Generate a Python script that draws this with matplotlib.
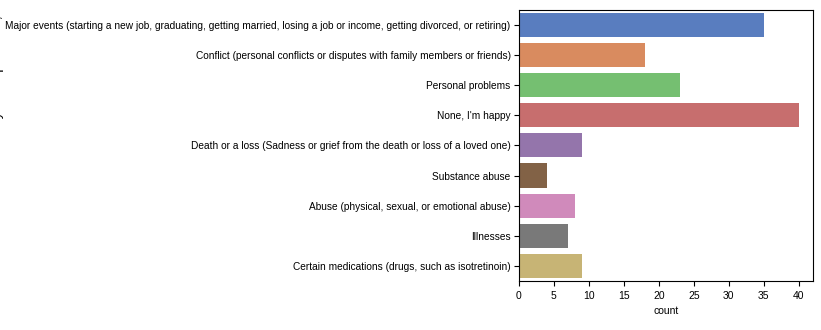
import matplotlib
matplotlib.use('Agg')
import matplotlib.pyplot as plt
import seaborn as sns

categorias = [
    "Major events (starting a new job, graduating, getting married, losing a job or income, getting divorced, or retiring)",
    "Conflict (personal conflicts or disputes with family members or friends)",
    "Personal problems",
    "None, I'm happy",
    "Death or a loss (Sadness or grief from the death or loss of a loved one)",
    "Substance abuse",
    "Abuse (physical, sexual, or emotional abuse)",
    "Illnesses",
    "Certain medications (drugs, such as isotretinoin)",
]
contagens = [35, 18, 23, 40, 9, 4, 8, 7, 9]

plt.rcParams['font.family'] = ['Liberation Sans', 'DejaVu Sans']

# countplot do seaborn usa saturation=0.75
cores = [sns.desaturate(c, 0.75) for c in sns.color_palette("muted", len(categorias))]

fig = plt.figure(figsize=(8.21, 3.30), dpi=100)
ax = fig.add_axes([0.632, 0.148, 0.358, 0.823])

ax.barh(range(len(categorias)), contagens, height=0.8, color=cores)
ax.set_yticks(range(len(categorias)))
ax.set_yticklabels(categorias, fontsize=7.3)
ax.tick_params(axis='y', pad=2.5)
ax.set_ylim(len(categorias) - 0.5, -0.5)
ax.set_xlim(0, max(contagens) * 1.05)
ax.tick_params(axis='x', labelsize=7.5)
ax.set_xlabel("count", fontsize=7.5)
# rotulo do eixo y fica quase todo fora da figura, como no original
ax.set_ylabel("What do you think are the main reasons for your depression, anxiety or stress?", fontsize=10)
ax.yaxis.set_label_coords(-1.753, 0.5)

plt.savefig('out.png', dpi=100)
plt.close()
